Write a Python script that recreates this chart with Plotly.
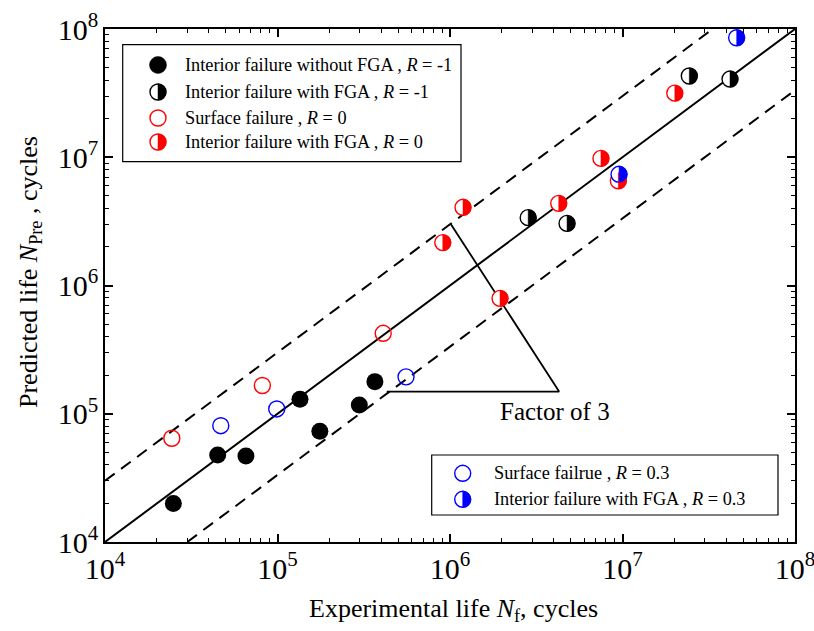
import numpy as np
import plotly.graph_objects as go

# ---------------- data ----------------
# Interior failure without FGA, R = -1 (black filled)
bf_x = [2.49e4, 4.5e4, 6.56e4, 1.35e5, 1.76e5, 2.98e5, 3.67e5]
bf_y = [2.0e4, 4.76e4, 4.69e4, 1.30e5, 7.3e4, 1.17e5, 1.78e5]
# Interior failure with FGA, R = -1 (black half)
bh_x = [2.84e6, 4.77e6, 2.44e7, 4.2e7]
bh_y = [3.38e6, 3.05e6, 4.3e7, 4.07e7]
# Surface failure, R = 0 (red open)
ro_x = [2.44e4, 8.17e4, 4.1e5]
ro_y = [6.44e4, 1.66e5, 4.24e5]
# Interior failure with FGA, R = 0 (red half)
rh_x = [9.08e5, 1.19e6, 1.95e6, 4.27e6, 7.5e6, 9.46e6, 2.01e7]
rh_y = [2.16e6, 4.07e6, 7.94e5, 4.37e6, 9.8e6, 6.56e6, 3.16e7]
# Surface failure, R = 0.3 (blue open)
bo_x = [4.69e4, 9.9e4, 5.56e5]
bo_y = [8.07e4, 1.09e5, 1.94e5]
# Interior failure with FGA, R = 0.3 (blue half)
uh_x = [9.55e6, 4.59e7]
uh_y = [7.36e6, 8.55e7]

# reference lines
diag_x = [1e4, 1e8]
factor = 3
# factor-of-3 annotation lines
fac_x = [1.01e6, 4.29e6, 4.3e5]
fac_y = [3.02e6, 1.49e5, 1.49e5]

legend1 = [
    ("Interior failure without FGA , <i>R</i> = -1", "black", "full"),
    ("Interior failure with FGA , <i>R</i> = -1", "black", "half"),
    ("Surface failure , <i>R</i> = 0", "red", "open"),
    ("Interior failure with FGA , <i>R</i> = 0", "red", "half"),
]
legend2 = [
    ("Surface failrue , <i>R</i> = 0.3", "blue", "open"),
    ("Interior failure with FGA , <i>R</i> = 0.3", "blue", "half"),
]

FONT = "Liberation Serif"
RED = "#ff0000"
BLUE = "#0000ff"
BLACK = "#000000"
cmap = {"black": BLACK, "red": RED, "blue": BLUE}

# plot area in pixels
L, R_, T, B = 105, 795, 29, 542
W, H = 814, 631


def px2paper(px, py):
    return (px - L) / (R_ - L), (B - py) / (B - T)


MS = 16
r = 8
k = 0.5523
half_path = (f"M0,{-r} C{k*r},{-r} {r},{-k*r} {r},0 "
             f"C{r},{k*r} {k*r},{r} 0,{r} Z")

fig = go.Figure()

# lines
fig.add_trace(go.Scatter(x=diag_x, y=diag_x, mode="lines",
                         line=dict(color="black", width=2), showlegend=False))
fig.add_trace(go.Scatter(x=[diag_x[0], diag_x[1] / factor],
                         y=[diag_x[0] * factor, diag_x[1]], mode="lines",
                         line=dict(color="black", width=2, dash="12px,8px"),
                         showlegend=False))
fig.add_trace(go.Scatter(x=[diag_x[0] * factor, diag_x[1]],
                         y=[diag_x[0], diag_x[1] / factor], mode="lines",
                         line=dict(color="black", width=2, dash="12px,8px"),
                         showlegend=False))
fig.add_trace(go.Scatter(x=fac_x, y=fac_y, mode="lines",
                         line=dict(color="black", width=1.8), showlegend=False))

# markers
fig.add_trace(go.Scatter(x=bf_x, y=bf_y, mode="markers", showlegend=False,
                         marker=dict(symbol="circle", size=MS + 1, color=BLACK,
                                     line=dict(width=0))))
fig.add_trace(go.Scatter(x=ro_x, y=ro_y, mode="markers", showlegend=False,
                         marker=dict(symbol="circle", size=MS, color="rgba(0,0,0,0)",
                                     line=dict(width=1.4, color=RED))))
fig.add_trace(go.Scatter(x=bo_x, y=bo_y, mode="markers", showlegend=False,
                         marker=dict(symbol="circle", size=MS, color="rgba(0,0,0,0)",
                                     line=dict(width=1.4, color=BLUE))))

shapes = []
for xs, ys, col in [(rh_x, rh_y, RED), (bh_x, bh_y, BLACK), (uh_x, uh_y, BLUE)]:
    fig.add_trace(go.Scatter(x=xs, y=ys, mode="markers", showlegend=False,
                             marker=dict(symbol="circle", size=MS, color="white",
                                         line=dict(width=1.4, color=col))))
for xs, ys, col in [(rh_x, rh_y, RED), (bh_x, bh_y, BLACK), (uh_x, uh_y, BLUE)]:
    for xv, yv in zip(xs, ys):
        shapes.append(dict(type="path", xref="x", yref="y",
                           xsizemode="pixel", ysizemode="pixel",
                           xanchor=xv, yanchor=yv, path=half_path,
                           fillcolor=col, line=dict(color=col, width=0.5),
                           layer="above"))

annotations = []


def add_legend(entries, box, mx, tx, ys):
    x0, y0 = px2paper(box[0], box[1])
    x1, y1 = px2paper(box[2], box[3])
    shapes.append(dict(type="rect", xref="paper", yref="paper",
                       x0=x0, x1=x1, y0=y1, y1=y0,
                       line=dict(color="black", width=1.2),
                       fillcolor="white", layer="above"))
    for (txt, c, kind), py in zip(entries, ys):
        col = cmap[c]
        ax, ay = px2paper(mx, py)
        if kind == "full":
            shapes.append(dict(type="circle", xref="paper", yref="paper",
                               xsizemode="pixel", ysizemode="pixel",
                               xanchor=ax, yanchor=ay, x0=-8.5, x1=8.5, y0=-8.5, y1=8.5,
                               fillcolor=col, line=dict(color=col, width=0.5),
                               layer="above"))
        else:
            shapes.append(dict(type="circle", xref="paper", yref="paper",
                               xsizemode="pixel", ysizemode="pixel",
                               xanchor=ax, yanchor=ay, x0=-8, x1=8, y0=-8, y1=8,
                               fillcolor="white", line=dict(color=col, width=1.4),
                               layer="above"))
            if kind == "half":
                shapes.append(dict(type="path", xref="paper", yref="paper",
                                   xsizemode="pixel", ysizemode="pixel",
                                   xanchor=ax, yanchor=ay, path=half_path,
                                   fillcolor=col, line=dict(color=col, width=0.5),
                                   layer="above"))
        tx_, ty_ = px2paper(tx, py)
        annotations.append(dict(xref="paper", yref="paper", x=tx_, y=ty_,
                                xanchor="left", yanchor="middle", showarrow=False,
                                text=txt, font=dict(family=FONT, size=18.3, color="black")))


add_legend(legend1, (122.7, 44.7, 461, 161.7), 158, 183, [65, 92, 118, 142])
add_legend(legend2, (431.7, 455, 778, 515), 462.7, 491.7, [473.3, 499.3])

annotations.append(dict(xref="x", yref="y", x=np.log10(4.06e6), y=np.log10(1.04e5),
                        text="Factor of 3", showarrow=False,
                        font=dict(family=FONT, size=25, color="black")))

xt, yt = px2paper(453, 592)
annotations.append(dict(xref="paper", yref="paper", x=xt, y=yt, showarrow=False,
                        xanchor="center", yanchor="top",
                        text="Experimental life <i>N</i><sub>f</sub>, cycles",
                        font=dict(family=FONT, size=26, color="black")))
xt, yt = px2paper(30, 272)
annotations.append(dict(xref="paper", yref="paper", x=xt, y=yt, showarrow=False,
                        xanchor="center", yanchor="middle", textangle=-90,
                        text="Predicted life <i>N</i><sub>Pre</sub> , cycles",
                        font=dict(family=FONT, size=26, color="black")))

axis_common = dict(type="log", showgrid=False, zeroline=False, automargin=False,
                   showline=True, linecolor="black", linewidth=2, mirror="ticks",
                   ticks="inside", ticklen=8, tickwidth=1.5, tickcolor="black",
                   dtick=1, exponentformat="power", ticklabeloverflow="allow",
                   tickfont=dict(family=FONT, size=24, color="black"),
                   minor=dict(ticks="inside", ticklen=4, tickwidth=1.3,
                              tickcolor="black", dtick="D1", showgrid=False))

fig.update_layout(
    width=W, height=H,
    margin=dict(l=L, r=W - R_, t=T, b=H - B, autoexpand=False),
    paper_bgcolor="white", plot_bgcolor="white",
    font=dict(family=FONT, color="black"),
    xaxis=dict(range=[4, 8], **axis_common),
    yaxis=dict(range=[4, 8], **axis_common),
    shapes=shapes, annotations=annotations,
    showlegend=False,
)

fig.write_html("out.html")
